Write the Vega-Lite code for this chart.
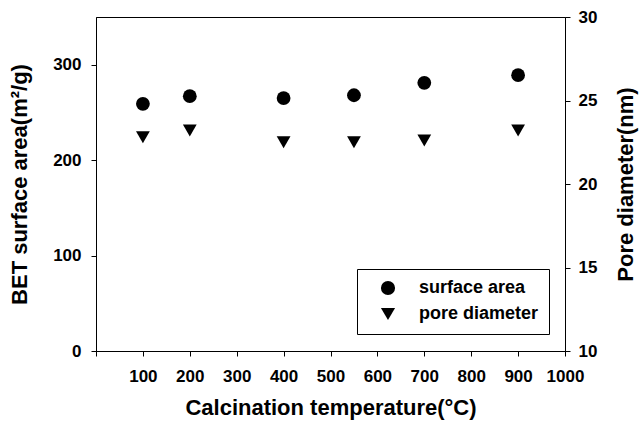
{
  "$schema": "https://vega.github.io/schema/vega-lite/v6.json",
  "width": 469,
  "height": 334,
  "autosize": "none",
  "padding": {"left": 96, "top": 17, "right": 74, "bottom": 74},
  "background": "white",
  "config": {
    "font": "Liberation Sans",
    "view": {"stroke": "black", "strokeWidth": 1},
    "axis": {
      "grid": false,
      "domainColor": "black",
      "tickColor": "black",
      "labelColor": "black",
      "titleColor": "black",
      "labelFont": "Liberation Sans",
      "titleFont": "Liberation Sans",
      "labelFontWeight": "bold",
      "titleFontWeight": "bold",
      "labelFontSize": 17,
      "titleFontSize": 22,
      "tickSize": 5
    }
  },
  "data": {
    "values": [
      {"temp": 100, "series": "surface area", "value": 259},
      {"temp": 200, "series": "surface area", "value": 267},
      {"temp": 400, "series": "surface area", "value": 265},
      {"temp": 550, "series": "surface area", "value": 268},
      {"temp": 700, "series": "surface area", "value": 281},
      {"temp": 900, "series": "surface area", "value": 289},
      {"temp": 100, "series": "pore diameter", "value": 22.8},
      {"temp": 200, "series": "pore diameter", "value": 23.2},
      {"temp": 400, "series": "pore diameter", "value": 22.5},
      {"temp": 550, "series": "pore diameter", "value": 22.5},
      {"temp": 700, "series": "pore diameter", "value": 22.6},
      {"temp": 900, "series": "pore diameter", "value": 23.2}
    ]
  },
  "layer": [
    {
      "transform": [{"filter": "datum.series == 'surface area'"}],
      "mark": {"type": "point", "filled": true, "size": 190, "opacity": 1, "color": "black"},
      "encoding": {
        "x": {
          "field": "temp",
          "type": "quantitative",
          "scale": {"domain": [0, 1000], "nice": false},
          "axis": {
            "title": "Calcination temperature(°C)",
            "values": [0, 100, 200, 300, 400, 500, 600, 700, 800, 900, 1000],
            "format": "d",
            "labelExpr": "datum.value == 0 ? '' : datum.label",
            "labelPadding": 12,
            "titlePadding": 13,
            "labelFlush": false,
            "labelOverlap": false
          }
        },
        "y": {
          "field": "value",
          "type": "quantitative",
          "scale": {"domain": [0, 350], "nice": false},
          "axis": {
            "orient": "left",
            "title": "BET surface area(m²/g)",
            "values": [0, 100, 200, 300],
            "labelPadding": 10,
            "titlePadding": 21
          }
        },
        "shape": {
          "field": "series",
          "type": "nominal",
          "scale": {"domain": ["surface area", "pore diameter"], "range": ["circle", "triangle-down"]},
          "legend": {
            "title": null,
            "orient": "none",
            "legendX": 261,
            "legendY": 252,
            "strokeColor": "black",
            "fillColor": "white",
            "padding": 10,
            "symbolSize": 200,
            "symbolFillColor": "black",
            "symbolStrokeColor": "black",
            "symbolOffset": 12,
            "labelOffset": 22,
            "labelFontSize": 18,
            "labelFontWeight": "bold",
            "labelColor": "black",
            "labelFont": "Liberation Sans",
            "rowPadding": 5
          }
        }
      }
    },
    {
      "transform": [{"filter": "datum.series == 'pore diameter'"}],
      "mark": {"type": "point", "filled": true, "size": 190, "opacity": 1, "color": "black"},
      "encoding": {
        "x": {"field": "temp", "type": "quantitative"},
        "y": {
          "field": "value",
          "type": "quantitative",
          "scale": {"domain": [10, 30], "nice": false},
          "axis": {
            "orient": "right",
            "title": "Pore diameter(nm)",
            "titleAngle": 270,
            "titleBaseline": "top",
            "values": [10, 15, 20, 25, 30],
            "labelPadding": 8,
            "titlePadding": 19
          }
        },
        "shape": {"field": "series", "type": "nominal"}
      }
    }
  ],
  "resolve": {"scale": {"y": "independent"}}
}
